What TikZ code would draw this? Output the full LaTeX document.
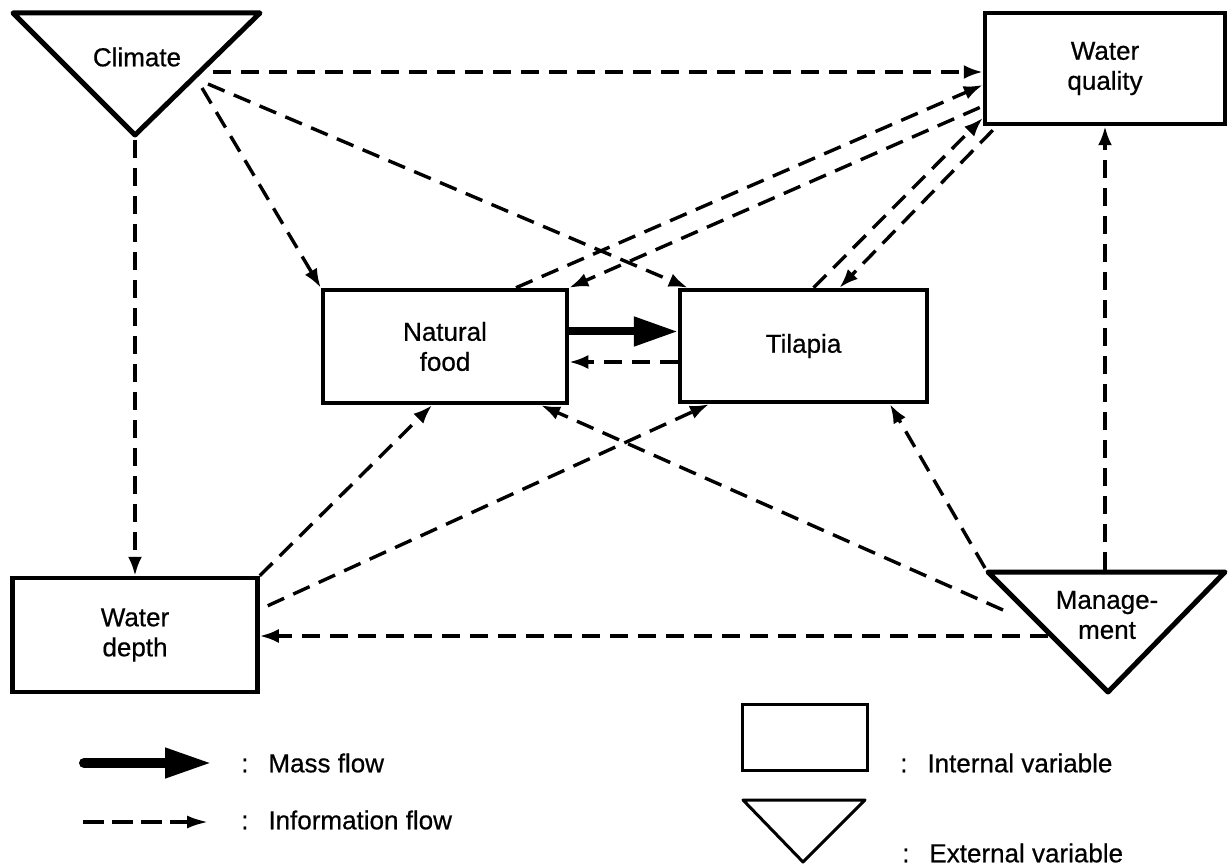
\documentclass[tikz,border=0pt]{standalone}
\usepackage{fontspec}
\setmainfont{Liberation Sans}[FakeBold=0.6]
\usetikzlibrary{arrows.meta,calc}
\begin{document}
\begin{tikzpicture}[x=1pt,y=-1pt,
  lbl/.style={font=\fontsize{26}{30}\selectfont, align=center, inner sep=0pt},
  box/.style={draw, line width=4.5pt, inner sep=0pt, lbl},
  tri/.style={draw, line width=5pt, line join=round},
  info/.style={line width=3.4pt, dash pattern=on 18pt off 10pt, -{Latex[length=19pt,width=14pt]}},
  mass/.style={line width=8pt, -{Triangle[length=44pt,width=28pt]}},
]
\useasboundingbox (0,0) rectangle (1228,866);

% internal variables
\node[box, minimum width=240pt, minimum height=111pt] (wq) at (1105,68.5) {Water\\quality};
\node[box, minimum width=244pt, minimum height=113pt] (nf) at (445,346.5) {Natural\\food};
\node[box, minimum width=247pt, minimum height=112pt] (til) at (803.5,346) {\raisebox{2pt}{Tilapia}};
\node[box, minimum width=245pt, minimum height=114pt] (wd) at (135,635) {Water\\depth};

% external variables
\coordinate (clTL) at (13,13); \coordinate (clTR) at (260,13); \coordinate (clB) at (135,135);
\draw[tri] (clTL) -- (clTR) -- (clB) -- cycle;
\node[lbl] (clim) at (137,57) {Climate};

\coordinate (mgTL) at (988,572); \coordinate (mgTR) at (1225,572); \coordinate (mgB) at (1108,692);
\draw[tri] (mgTL) -- (mgTR) -- (mgB) -- cycle;
\node[lbl] (mg) at (1107,615) {Manage-\\ment};

% information flows from Climate
\coordinate (c1s) at (213,72);
\draw[info] (c1s) -- (c1s -| wq.west);
\coordinate (c2s) at (202,88);
\draw[info] (c2s) -- (nf.north west);
\coordinate (c3s) at (208,84);
\draw[info] (c3s) -- ([xshift=10pt]til.north west);
\draw[info] ([yshift=-5pt]clB) -- (clB |- wd.north);

% between water quality and food / tilapia
\draw[info] ([xshift=71pt]nf.north) -- ([yshift=-16.5pt]wq.west);
\draw[info] ([xshift=-3pt,yshift=-39pt]wq.west) -- (nf.north east);
\draw[info] ([xshift=10pt]til.north) -- ([yshift=-49.5pt]wq.west);
\draw[info] ([xshift=10pt,yshift=-4pt]wq.south west) -- ([xshift=36pt]til.north);

% between food and tilapia
\draw[mass] ([yshift=15pt]nf.east) -- ([yshift=15pt]nf.east -| til.west);
\draw[info] ([yshift=-16pt]til.west) -- ([yshift=-16pt]til.west -| nf.east);

% from water depth
\draw[info] (wd.north east) -- ([xshift=-13pt]nf.south);
\draw[info] ([xshift=8pt,yshift=-30pt]wd.north east) -- ([xshift=-94.5pt]til.south);

% from management
\coordinate (m1) at (1003,610);
\draw[info] (m1) -- ([xshift=96pt]nf.south);
\coordinate (m2) at (985,568);
\draw[info] (m2) -- ([xshift=86.5pt]til.south);
\coordinate (m3) at (1048,636);
\draw[info] (m3) -- (m3 -| wd.east);
\coordinate (m4) at (1105,570);
\draw[info] (m4) -- (m4 |- wq.south);

% legend
\coordinate (lm1) at (84,763); \coordinate (lm2) at (212,763);
\draw[line width=10pt, line cap=round, -{Triangle[length=47pt,width=28pt]}] (lm1) -- (lm2);
\node[lbl, anchor=west] (lmass) at (241,763) {:\hspace{20pt}Mass flow};
\coordinate (li1) at (83,822); \coordinate (li2) at (209,822);
\draw[line width=4pt, dash pattern=on 21pt off 8pt, -{Latex[length=22pt,width=13pt]}] (li1) -- (li2);
\node[lbl, anchor=west] (linfo) at (241,820) {:\hspace{20pt}Information flow};

\node[draw, line width=3pt, minimum width=125pt, minimum height=66pt, inner sep=0pt] (lrect) at (804.5,737) {};
\node[lbl, anchor=west] (lint) at (900,763) {:\hspace{20pt}Internal variable};
\coordinate (ltTL) at (743,800); \coordinate (ltTR) at (865,800); \coordinate (ltB) at (803,862);
\draw[line width=3pt, line join=round] (ltTL) -- (ltTR) -- (ltB) -- cycle;
\node[lbl, anchor=west] (lext) at (902,853) {:\hspace{20pt}External variable};
\end{tikzpicture}
\end{document}
